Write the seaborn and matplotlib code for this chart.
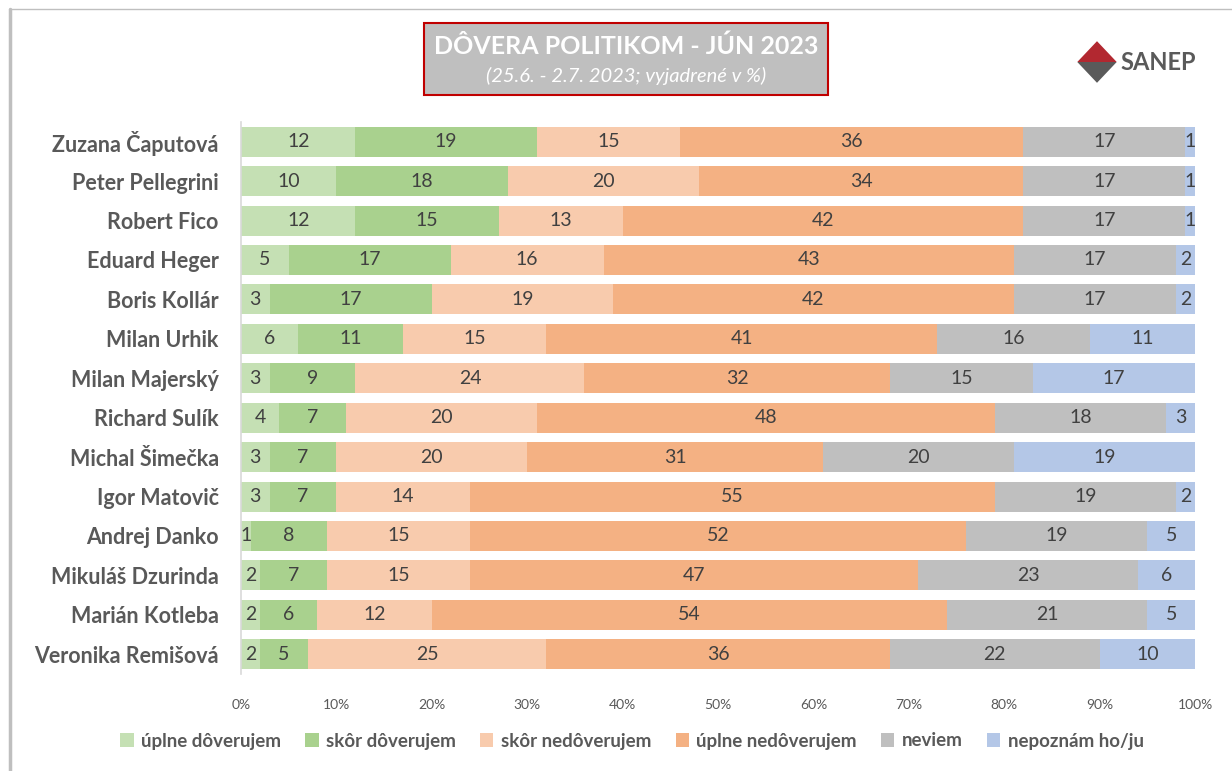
import numpy as np
import pandas as pd
import matplotlib
matplotlib.use('Agg')
import matplotlib.pyplot as plt
import matplotlib.patches as mpatches
import seaborn as sns

names = ['Zuzana Čaputová', 'Peter Pellegrini', 'Robert Fico', 'Eduard Heger',
         'Boris Kollár', 'Milan Urhik', 'Milan Majerský', 'Richard Sulík',
         'Michal Šimečka', 'Igor Matovič', 'Andrej Danko', 'Mikuláš Dzurinda',
         'Marián Kotleba', 'Veronika Remišová']

uplne_doverujem = [12, 10, 12, 5, 3, 6, 3, 4, 3, 3, 1, 2, 2, 2]
skor_doverujem = [19, 18, 15, 17, 17, 11, 9, 7, 7, 7, 8, 7, 6, 5]
skor_nedoverujem = [15, 20, 13, 16, 19, 15, 24, 20, 20, 14, 15, 15, 12, 25]
uplne_nedoverujem = [36, 34, 42, 43, 42, 41, 32, 48, 31, 55, 52, 47, 54, 36]
neviem = [17, 17, 17, 17, 17, 16, 15, 18, 20, 19, 19, 23, 21, 22]
nepoznam = [1, 1, 1, 2, 2, 11, 17, 3, 19, 2, 5, 6, 5, 10]

series = ['úplne dôverujem', 'skôr dôverujem', 'skôr nedôverujem',
          'úplne nedôverujem', 'neviem', 'nepoznám ho/ju']
colors = ['#C5E0B4', '#A9D18E', '#F8CBAD', '#F4B183', '#BFBFBF', '#B4C7E7']

df = pd.DataFrame({
    'name': names,
    series[0]: uplne_doverujem,
    series[1]: skor_doverujem,
    series[2]: skor_nedoverujem,
    series[3]: uplne_nedoverujem,
    series[4]: neviem,
    series[5]: nepoznam,
})

sns.set_theme(style='white')
plt.rcParams['font.family'] = ['Lato', 'DejaVu Sans']

fig = plt.figure(figsize=(12.32, 7.71), dpi=100)
ax = fig.add_axes([0.1956, 0.1258, 0.7744, 0.716])

cum = df[series].cumsum(axis=1)
# draw cumulative totals from the back so each segment shows
for s, c in reversed(list(zip(series, colors))):
    sns.barplot(x=cum[s], y=df['name'], orient='h', color=c, width=0.76,
                saturation=1, edgecolor='none', linewidth=0, ax=ax)

for s in series:
    for i, (v, end) in enumerate(zip(df[s], cum[s])):
        ax.text(end - v / 2, i, f'{v}', ha='center', va='center',
                fontsize=14, color='#404040')

ax.set_xlim(0, 100)
ax.set_ylim(13.5, -0.5)
ax.set_xticks(np.arange(0, 101, 10))
ax.set_xticklabels([f'{t}%' for t in range(0, 101, 10)], fontsize=10, color='#595959')
ax.set_xlabel('')
ax.set_ylabel('')
ax.tick_params(axis='x', length=0, pad=18)
ax.tick_params(axis='y', length=0, pad=16)
for lab in ax.get_yticklabels():
    lab.set_fontsize(15.5)
    lab.set_fontweight('bold')
    lab.set_color('#595959')
for sp in ['top', 'right', 'bottom']:
    ax.spines[sp].set_visible(False)
ax.spines['left'].set_color('#D9D9D9')
ax.spines['left'].set_linewidth(1.2)

# outer frame lines (left and top)
fig.add_artist(plt.Line2D([0.0085, 0.0085], [0, 0.988], color='#BFBFBF', lw=2.5))
fig.add_artist(plt.Line2D([0.0075, 1.0], [0.988, 0.988], color='#BFBFBF', lw=1))

# title box
fig.add_artist(mpatches.Rectangle((424 / 1232, 1 - 95 / 771), 404 / 1232, 72 / 771,
                                  transform=fig.transFigure, facecolor='#BFBFBF',
                                  edgecolor='#C00000', lw=1.5))
fig.text(626 / 1232, 1 - 46 / 771, 'DÔVERA POLITIKOM - JÚN 2023', ha='center', va='center',
         fontsize=18, fontweight='bold', color='white')
fig.text(626 / 1232, 1 - 76 / 771, '(25.6. - 2.7. 2023; vyjadrené v %)', ha='center',
         va='center', fontsize=14.5, style='italic', color='white')

# logo
cx, cy = 1097 / 1232, 1 - 62 / 771
fig.add_artist(mpatches.Polygon([(cx - 0.016, cy), (cx, cy + 0.027), (cx + 0.016, cy)],
                                closed=True, transform=fig.transFigure,
                                facecolor='#B22830', edgecolor='none'))
fig.add_artist(mpatches.Polygon([(cx - 0.016, cy), (cx, cy - 0.027), (cx + 0.016, cy)],
                                closed=True, transform=fig.transFigure,
                                facecolor='#5A5A5A', edgecolor='none'))
fig.text(1158 / 1232, 1 - 62 / 771, 'SANEP', ha='center', va='center',
         fontsize=17, fontweight='bold', color='#5A5A5A')

handles = [mpatches.Patch(facecolor=c, edgecolor='none', label=s) for s, c in zip(series, colors)]
fig.legend(handles=handles, loc='center', bbox_to_anchor=(632 / 1232, 1 - 741 / 771), ncol=6,
           frameon=False, handlelength=0.7, handleheight=0.7, handletextpad=0.4,
           columnspacing=1.3, prop={'size': 13.5, 'weight': 'bold'}, labelcolor='#595959')

plt.savefig('out.png', dpi=100)
plt.close()
